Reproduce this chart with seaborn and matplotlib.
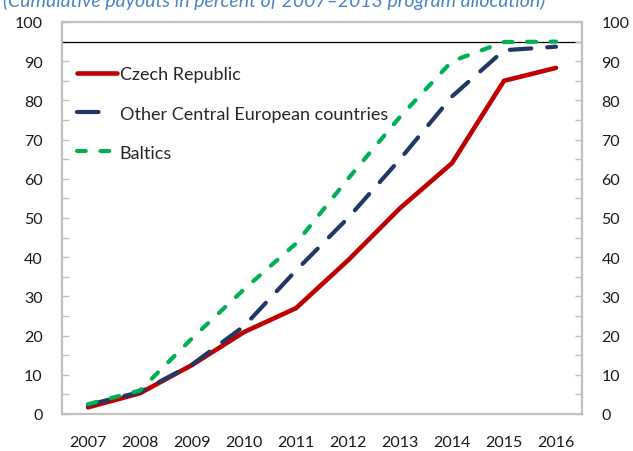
import matplotlib
matplotlib.use("Agg")
import matplotlib.pyplot as plt
from matplotlib.ticker import MultipleLocator
from matplotlib.lines import Line2D
import seaborn as sns
import pandas as pd

years = [2007, 2008, 2009, 2010, 2011, 2012, 2013, 2014, 2015, 2016]
czech = [1.7, 5.3, 12.5, 20.9, 27.0, 39.2, 52.5, 64.0, 85.0, 88.3]
other_ce = [2.3, 5.6, 12.6, 22.4, 36.6, 50.0, 65.0, 81.0, 92.8, 93.7]
baltics = [2.5, 6.0, 19.3, 31.8, 43.5, 60.0, 75.8, 90.0, 94.9, 95.0]
series_names = ["Czech Republic", "Other Central European countries", "Baltics"]
series_colors = ["#C00000", "#1F3864", "#00B050"]
target_level = 95
title = "(Cumulative payouts in percent of 2007\u20132013 program allocation)"

df = pd.DataFrame({
    "year": years * 3,
    "value": czech + other_ce + baltics,
    "series": [series_names[0]] * 10 + [series_names[1]] * 10 + [series_names[2]] * 10,
})

sns.set_theme(style="white")
plt.rcParams["font.family"] = ["Lato", "DejaVu Sans"]
plt.rcParams["lines.scale_dashes"] = False

blue_dash = (15.5, 11.5)
green_dash = (6.3, 10.6)

fig = plt.figure(figsize=(6.33, 4.52), dpi=100)
ax = fig.add_axes([62 / 633, 1 - 415 / 452, 520 / 633, 392 / 452])

sns.lineplot(
    data=df, x="year", y="value", hue="series", style="series",
    hue_order=series_names, style_order=series_names,
    palette=series_colors,
    dashes={series_names[0]: "", series_names[1]: blue_dash, series_names[2]: green_dash},
    linewidth=3, ax=ax, legend=False,
)
for ln in ax.get_lines():
    ln.set_solid_capstyle("round")
    ln.set_dash_capstyle("round")
    ln.set_solid_joinstyle("round")
ax.get_lines()[0].set_linewidth(3.3)

ax.axhline(target_level, color="black", lw=0.9, zorder=1)

ax.set_xlim(2006.5, 2016.5)
ax.set_ylim(0, 100)
ax.set_xticks(years)
ax.set_xticklabels([str(y) for y in years])
ax.yaxis.set_major_locator(MultipleLocator(10))
ax.yaxis.set_minor_locator(MultipleLocator(5))
ax.set_xlabel("")
ax.set_ylabel("")

ax2 = ax.twinx()
ax2.set_ylim(0, 100)
ax2.yaxis.set_major_locator(MultipleLocator(10))
ax2.yaxis.set_minor_locator(MultipleLocator(5))

spine_color = "#BFBFBF"
tick_size = 11.5
for a in (ax, ax2):
    for s in a.spines.values():
        s.set_color(spine_color)
        s.set_linewidth(1.5)
        s.set_visible(True)
    a.tick_params(axis="y", which="both", direction="in", length=5, width=1,
                  color=spine_color, labelsize=tick_size, labelcolor="#1a1a1a", pad=14)
ax.tick_params(axis="x", length=0, pad=15, labelsize=tick_size, labelcolor="#1a1a1a")

# legend keys: the dashed one shows a single long dash
handles = [
    Line2D([], [], color=series_colors[0], lw=3.3, solid_capstyle="round"),
    Line2D([], [], color=series_colors[1], lw=3, dashes=(15.5, 30), dash_capstyle="round"),
    Line2D([], [], color=series_colors[2], lw=3, dashes=green_dash, dash_capstyle="round"),
]
ax.legend(handles, series_names, loc="upper left", bbox_to_anchor=(0.015, 0.905),
          frameon=False, fontsize=13, handlelength=2.2, handletextpad=0.17,
          labelspacing=1.28, borderaxespad=0)

fig.text(0.004, 1 - 7 / 452, title, fontsize=14, style="italic",
         color="#4A86C5", va="baseline", ha="left")

fig.savefig("out.png", dpi=100)
